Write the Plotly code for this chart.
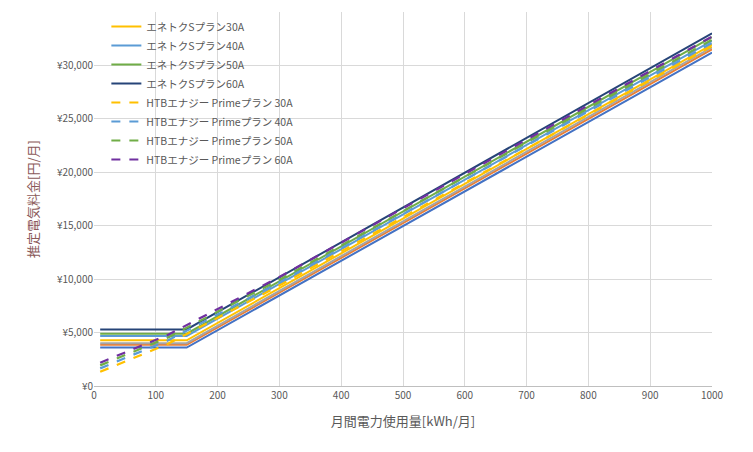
import plotly.graph_objects as go

x_s = [10, 150, 1000]
solid = [
    ("エネトクSプラン10A", "#4472C4", [3600, 3600, 31200], False),
    ("エネトクSプラン15A", "#ED7D31", [3860, 3860, 31500], False),
    ("エネトクSプラン20A", "#A5A5A5", [4010, 4010, 31700], False),
    ("エネトクSプラン30A", "#FFC000", [4270, 4270, 31950], True),
    ("エネトクSプラン40A", "#5B9BD5", [4680, 4680, 32300], True),
    ("エネトクSプラン50A", "#70AD47", [4900, 4900, 32650], True),
    ("エネトクSプラン60A", "#264478", [5290, 5290, 33000], True),
]
x_p = [10, 120, 300, 1000]
prime = [
    ("HTBエナジー Primeプラン 30A", "#FFC000", [1330, 3950, 9400, 31800]),
    ("HTBエナジー Primeプラン 40A", "#5B9BD5", [1650, 4280, 9700, 32100]),
    ("HTBエナジー Primeプラン 50A", "#70AD47", [1930, 4550, 9950, 32400]),
    ("HTBエナジー Primeプラン 60A", "#7030A0", [2180, 4800, 10200, 32700]),
]

fig = go.Figure()
for name, c, y, show in solid:
    fig.add_trace(go.Scatter(x=x_s, y=y, mode="lines", name=name, showlegend=show,
                             line=dict(color=c, width=2)))
for name, c, y in prime:
    fig.add_trace(go.Scatter(x=x_p, y=y, mode="lines", name=name,
                             line=dict(color=c, width=2.2, dash="dash")))

font = "Noto Sans CJK JP"
fig.update_layout(
    width=753, height=452, paper_bgcolor="white", plot_bgcolor="white",
    margin=dict(l=86, r=49, t=4, b=74),
    font=dict(family=font, size=10, color="#595959"),
    legend=dict(x=0.02, y=1.0, xanchor="left", yanchor="top", bgcolor="rgba(255,255,255,0)",
                font=dict(size=10.5, color="#595959"), tracegroupgap=0),
    xaxis=dict(range=[0, 1000], dtick=100, showgrid=True, gridcolor="#D9D9D9",
               showline=True, linecolor="#BFBFBF", ticks="", zeroline=False, automargin=False,
               title=dict(text="月間電力使用量[kWh/月]", font=dict(size=13, color="#595959"))),
    yaxis=dict(range=[0, 35000], dtick=5000, showgrid=True, gridcolor="#D9D9D9",
               tickprefix="¥", tickformat=",d", zeroline=False, showline=False, automargin=False,
               title=dict(text="推定電気料金[円/月]", font=dict(size=13, color="#8B5A5A"))),
)
fig.write_html("out.html")
